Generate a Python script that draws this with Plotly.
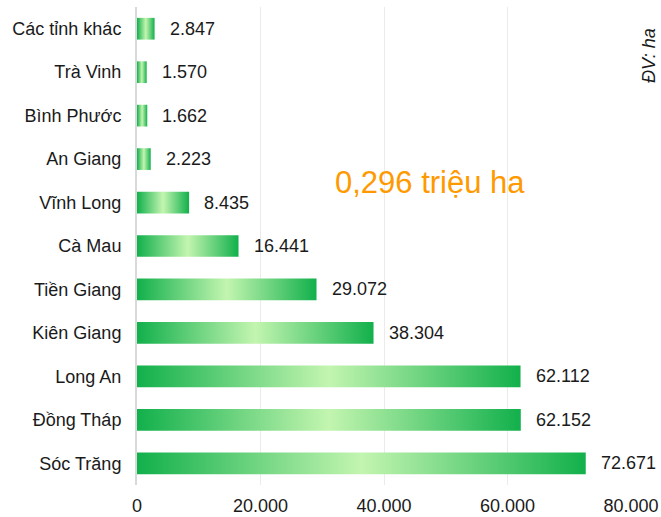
import plotly.graph_objects as go

# Data (bottom to top)
provinces = ["Sóc Trăng", "Đồng Tháp", "Long An", "Kiên Giang", "Tiền Giang",
             "Cà Mau", "Vĩnh Long", "An Giang", "Bình Phước", "Trà Vinh", "Các tỉnh khác"]
areas = [72671, 62152, 62112, 38304, 29072, 16441, 8435, 2223, 1662, 1570, 2847]
x_ticks = [0, 20000, 40000, 60000, 80000]
total_label = "0,296 triệu ha"
unit_label = "<i>ĐV: ha</i>"

FONT = "Liberation Sans, Arial, sans-serif"
half = 0.25
scale = [[0, "#12b04c"], [0.5, "#c3f5b0"], [1, "#12b04c"]]

W, H = 661, 517
L, R, T, B = 137, 30, 7, 32

fig = go.Figure()
positions = list(range(len(provinces)))
for pos, v in zip(positions, areas):
    fig.add_trace(go.Scatter(
        x=[0, v, v, 0, 0],
        y=[pos - half, pos - half, pos + half, pos + half, pos - half],
        mode="lines", fill="toself",
        line=dict(width=0, color="rgba(0,0,0,0)"),
        fillgradient=dict(type="horizontal", colorscale=scale),
        hoverinfo="skip", showlegend=False,
    ))
    fig.add_annotation(x=v, y=pos, xref="x", yref="y",
                       text=f"{v:,}".replace(",", "."), showarrow=False,
                       xanchor="left", xshift=13,
                       font=dict(family=FONT, size=18, color="#1a1a1a"))

plot_w = W - L - R
plot_h = H - T - B
fig.add_annotation(x=(430 - L) / plot_w, y=(H - B - 183) / plot_h,
                   xref="paper", yref="paper", text=total_label,
                   showarrow=False, xanchor="center", yanchor="middle",
                   font=dict(family=FONT, size=31, color="#ff9900"))
fig.add_annotation(x=(649 - L) / plot_w, y=(H - B - 56) / plot_h,
                   xref="paper", yref="paper", text=unit_label,
                   showarrow=False, textangle=-90, xanchor="center", yanchor="middle",
                   font=dict(family=FONT, size=18, color="#1a1a1a"))

fig.update_layout(
    width=W, height=H,
    margin=dict(l=L, r=R, t=T, b=B, autoexpand=False),
    paper_bgcolor="white", plot_bgcolor="white",
    separators=",.",
    font=dict(family=FONT, size=18, color="#1a1a1a"),
    xaxis=dict(range=[0, 80000], tickvals=x_ticks, tickformat=",d",
               showgrid=True, gridcolor="#ebebeb", gridwidth=1,
               zeroline=False, showline=False, ticks="", automargin=False,
               ticklabelstandoff=8, tickfont=dict(size=18, color="#1a1a1a")),
    yaxis=dict(range=[-0.5, len(provinces) - 0.5], tickvals=positions, ticktext=provinces,
               showgrid=False, zeroline=False, showline=True, linecolor="#d9d9d9",
               linewidth=2, ticks="", ticklabelstandoff=10, automargin=False,
               tickfont=dict(size=18, color="#1a1a1a")),
)

fig.write_html("out.html", config={"displayModeBar": False},
               post_script="document.body.style.margin='0';document.body.style.overflow='hidden';")
